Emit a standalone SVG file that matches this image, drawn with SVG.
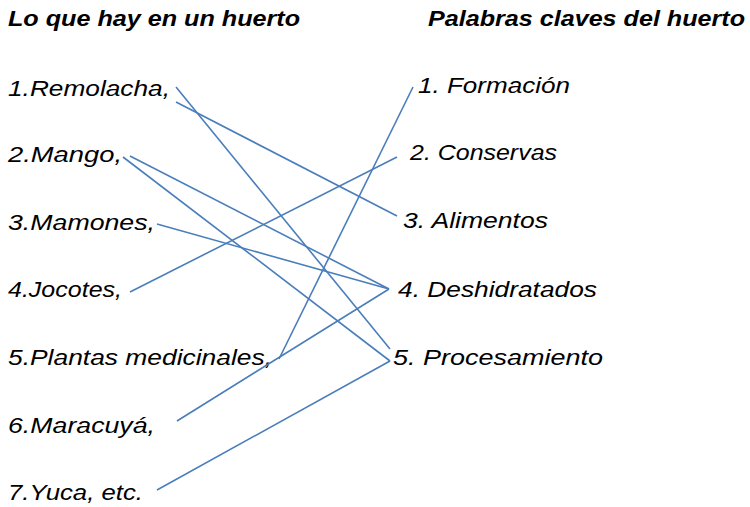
<svg xmlns="http://www.w3.org/2000/svg" width="750" height="507" viewBox="0 0 750 507">
<style>
text{font-family:"Liberation Sans",Arial,sans-serif;font-style:italic;font-size:22px;fill:#000}
.h{font-weight:bold}
#connectors line{stroke:#4a7ebb;stroke-width:1.6;fill:none}
</style>
<rect width="750" height="507" fill="#fff"/>
<g id="titles">
<text class="h" x="8" y="26" textLength="292" lengthAdjust="spacingAndGlyphs">Lo que hay en un huerto</text>
<text class="h" x="428" y="26" textLength="317" lengthAdjust="spacingAndGlyphs">Palabras claves del huerto</text>
</g>
<g id="left">
<g id="l1"><text x="8" y="96" textLength="162" lengthAdjust="spacingAndGlyphs">1.Remolacha,</text></g>
<g id="l2"><text x="8" y="162" textLength="114" lengthAdjust="spacingAndGlyphs">2.Mango,</text></g>
<g id="l3"><text x="8" y="230" textLength="147" lengthAdjust="spacingAndGlyphs">3.Mamones,</text></g>
<g id="l4"><text x="8" y="297" textLength="114" lengthAdjust="spacingAndGlyphs">4.Jocotes,</text></g>
<g id="l5"><text x="8" y="365" textLength="264" lengthAdjust="spacingAndGlyphs">5.Plantas medicinales,</text></g>
<g id="l6"><text x="8" y="433" textLength="147" lengthAdjust="spacingAndGlyphs">6.Maracuyá,</text></g>
<g id="l7"><text x="8" y="500" textLength="135" lengthAdjust="spacingAndGlyphs">7.Yuca, etc.</text></g>
</g>
<g id="right">
<g id="r1"><text x="418" y="93" textLength="152" lengthAdjust="spacingAndGlyphs">1. Formación</text></g>
<g id="r2"><text x="410" y="160" textLength="147" lengthAdjust="spacingAndGlyphs">2. Conservas</text></g>
<g id="r3"><text x="403" y="228" textLength="145" lengthAdjust="spacingAndGlyphs">3. Alimentos</text></g>
<g id="r4"><text x="398" y="297" textLength="199" lengthAdjust="spacingAndGlyphs">4. Deshidratados</text></g>
<g id="r5"><text x="393" y="365" textLength="210" lengthAdjust="spacingAndGlyphs">5.  Procesamiento</text></g>
</g>
<g id="connectors">
<line x1="176" y1="87" x2="390" y2="349"/>
<line x1="176" y1="102" x2="397" y2="216"/>
<line x1="130" y1="156" x2="389" y2="289"/>
<line x1="123" y1="157" x2="390" y2="361"/>
<line x1="157" y1="224" x2="389" y2="289"/>
<line x1="130" y1="292" x2="397" y2="157"/>
<line x1="279" y1="359" x2="413" y2="87"/>
<line x1="177" y1="421" x2="389" y2="289"/>
<line x1="157" y1="490" x2="390" y2="361"/>
</g>
</svg>
